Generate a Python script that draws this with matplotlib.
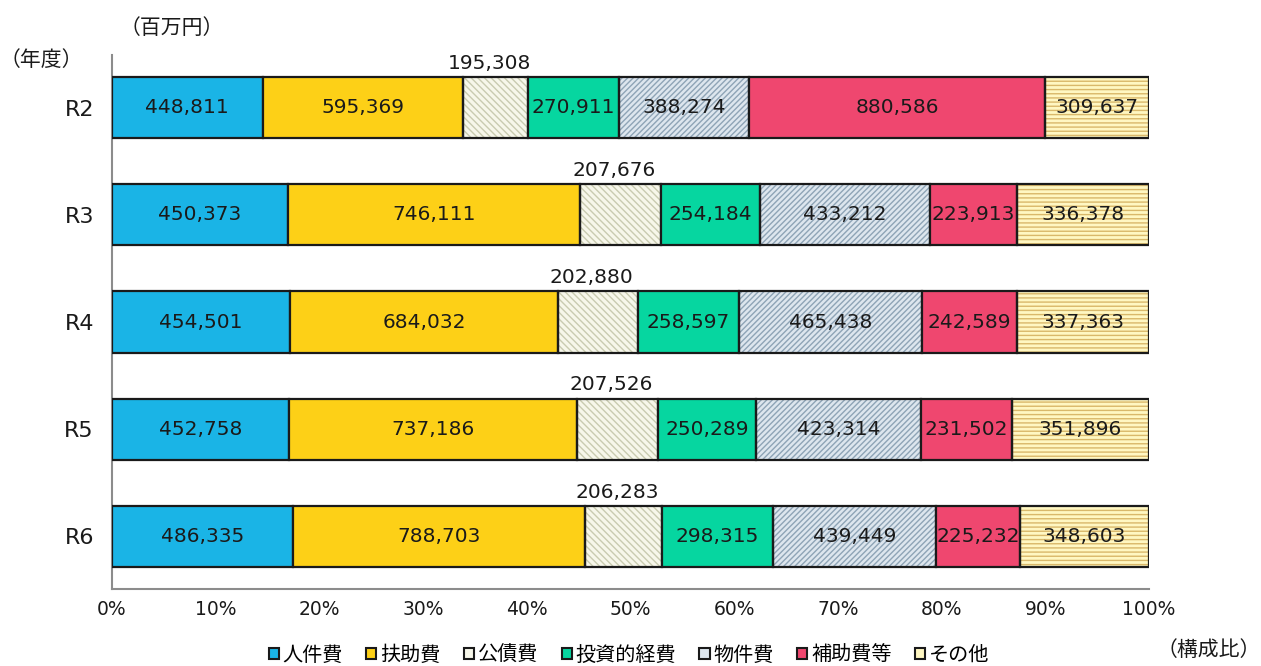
import matplotlib
matplotlib.use("Agg")
import matplotlib.pyplot as plt
from matplotlib.patches import Patch
import numpy as np

plt.rcParams['font.family'] = ['DejaVu Sans', 'Noto Sans CJK JP']
plt.rcParams['hatch.linewidth'] = 1.0

years = ["R2", "R3", "R4", "R5", "R6"]
categories = ["人件費", "扶助費", "公債費", "投資的経費", "物件費", "補助費等", "その他"]
jinken = [448811, 450373, 454501, 452758, 486335]
fujo = [595369, 746111, 684032, 737186, 788703]
kousai = [195308, 207676, 202880, 207526, 206283]
toushi = [270911, 254184, 258597, 250289, 298315]
bukken = [388274, 433212, 465438, 423314, 439449]
hojo = [880586, 223913, 242589, 231502, 225232]
sonota = [309637, 336378, 337363, 351896, 348603]
xticklabels = ["0%", "10%", "20%", "30%", "40%", "50%", "60%", "70%", "80%", "90%", "100%"]

series = [jinken, fujo, kousai, toushi, bukken, hojo, sonota]
facecolors = ["#1ab4e6", "#fdd017", "#f7f7ea", "#06d6a0", "#dde6ee", "#ef476f", "#fff7c2"]
hatches = [None, None, "\\\\\\\\\\", None, "//////", None, "----"]
hatchcolors = [None, None, "#c9cbb0", None, "#8ea4b6", None, "#d9b86a"]

JP = ['Noto Sans CJK JP', 'DejaVu Sans']

fig = plt.figure(figsize=(12.61, 6.66), dpi=100)
ax = fig.add_axes([112/1261, 77/666, 1037/1261, 534/666])

data = np.array(series, dtype=float)
totals = data.sum(axis=0)
shares = data / totals
y = np.arange(len(years))
h = 0.57
left = np.zeros(len(years))
for i, (vals, sh) in enumerate(zip(series, shares)):
    if hatches[i]:
        ax.barh(y, sh, left=left, height=h, color=facecolors[i], edgecolor=hatchcolors[i],
                hatch=hatches[i], linewidth=0, zorder=2)
        ax.barh(y, sh, left=left, height=h, facecolor='none', edgecolor='#1a1a1a',
                linewidth=1.6, zorder=3)
    else:
        ax.barh(y, sh, left=left, height=h, color=facecolors[i], edgecolor='#1a1a1a',
                linewidth=1.6, zorder=3)
    for j in range(len(years)):
        cx = left[j] + sh[j] / 2
        txt = f"{vals[j]:,}"
        if i == 2:
            ax.text(cx - 0.006, y[j] - h / 2 - 0.04, txt, ha='center', va='bottom', fontsize=14.5,
                    color='#1a1a1a', zorder=5)
        else:
            ax.text(cx, y[j], txt, ha='center', va='center', fontsize=14.5, color='#1a1a1a', zorder=5)
    left += sh

ax.set_xlim(0, 1)
ax.set_ylim(4.49, -0.49)
ax.set_yticks(y)
ax.set_yticklabels(years, fontsize=16, color='#1a1a1a')
ax.set_xticks(np.linspace(0, 1, 11))
ax.set_xticklabels(xticklabels, fontsize=13.5, color='#1a1a1a')
ax.tick_params(length=0, pad=8)
ax.tick_params(axis='y', pad=13)
for s in ['top', 'right']:
    ax.spines[s].set_visible(False)
for s in ['left', 'bottom']:
    ax.spines[s].set_color('#8c8c8c')
    ax.spines[s].set_linewidth(1.5)

fig.text(120/1261, 1 - 28/666, "（百万円）", ha='left', va='center', fontsize=15, color='#1a1a1a', family=JP)
fig.text(0/1261, 1 - 60/666, "（年度）", ha='left', va='center', fontsize=15, color='#1a1a1a', family=JP)
fig.text(1261/1261, 1 - 650/666, "（構成比）", ha='right', va='center', fontsize=15, color='#1a1a1a', family=JP)

handles = []
for i, c in enumerate(categories):
    handles.append(Patch(facecolor=facecolors[i], edgecolor='#1a1a1a', linewidth=1.5))
fig.legend(handles, categories, loc='center', bbox_to_anchor=(629/1261, 1 - 655/666), ncol=7,
           frameon=False, prop={'family': JP, 'size': 14.5}, handlelength=0.5, handleheight=0.5,
           handletextpad=0.2, columnspacing=1.15)

fig.savefig("out.png", dpi=100)
